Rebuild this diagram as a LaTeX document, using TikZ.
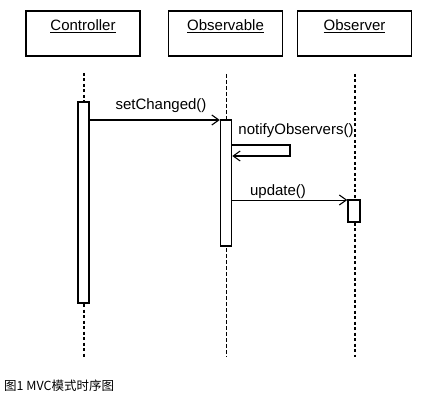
\documentclass[tikz,border=0pt]{standalone}
\usepackage{fontspec}
\setmainfont{Liberation Sans}
\newfontfamily\cjk{Noto Sans CJK SC}
\usetikzlibrary{arrows.meta}
\begin{document}
\begin{tikzpicture}[x=1pt,y=-1pt,
  objbox/.style={draw,line width=1.5pt,minimum width=114pt,minimum height=45pt,inner sep=0pt},
  objlabel/.style={inner sep=0pt,font=\fontsize{15}{18}\selectfont},
  lifeline/.style={line width=1.5pt,dash pattern=on 3pt off 2.5pt},
  thinlife/.style={line width=1pt,dash pattern=on 4pt off 2pt},
  act/.style={draw,fill=white,line width=1.5pt,inner sep=0pt},
  msg/.style={line width=1.1pt,-{Straight Barb[length=7pt,width=10pt,line width=1.1pt]}},
  msglabel/.style={inner sep=0pt,font=\fontsize{15}{18}\selectfont},
  caption/.style={inner sep=0pt,anchor=west,font=\cjk\fontsize{12.5}{14}\selectfont}]
\useasboundingbox (0,0) rectangle (422,403);
\fill[white] (0,0) rectangle (422,403);
% object boxes
\node[objbox] (cbox) at (83,33.5) {};
\node[objbox] (obox) at (225.5,33.5) {};
\node[objbox] (rbox) at (354.5,33.5) {};
\node[objlabel] (clab) at (83,26) {\underline{Controller}};
\node[objlabel] (olab) at (225.5,26) {\underline{Observable}};
\node[objlabel] (rlab) at (354.5,26) {\underline{Observer}};
% lifelines
\coordinate (ctop) at (84,73);
\coordinate (cbot) at (84,357);
\coordinate (otop) at (226,74);
\coordinate (obot) at (226,357);
\coordinate (rtop) at (355,74);
\coordinate (rbot) at (355,357);
\draw[lifeline] (ctop) -- (cbot);
\draw[thinlife] (otop) -- (obot);
\draw[lifeline] (rtop) -- (rbot);
% activations
\node[act,minimum width=11pt,minimum height=201pt] (cact) at (83.5,202.5) {};
\node[act,minimum width=11pt,minimum height=126pt] (oact) at (226,183) {};
\node[act,minimum width=12pt,minimum height=22pt] (ract) at (354,211) {};
% messages
\coordinate (m1) at (0,120);
\coordinate (s1) at (0,145);
\coordinate (s2) at (0,156);
\coordinate (sr1) at (290,145);
\coordinate (sr2) at (290,156);
\coordinate (m3) at (0,200);
\draw[msg] (cact.east |- m1) -- (oact.west |- m1);
\draw[msg] (oact.east |- s1) -- (sr1) -- (sr2) -- (oact.east |- s2);
\draw[msg,line width=0.9pt] (oact.east |- m3) -- (ract.west |- m3);
\node[msglabel] (l1) at (161,106) {setChanged()};
\node[msglabel] (l2) at (296,131) {notifyObservers()};
\node[msglabel] (l3) at (278,192) {update()};
% caption
\node[caption] (cap) at (4,386) {图1 MVC模式时序图};
\end{tikzpicture}
\end{document}
